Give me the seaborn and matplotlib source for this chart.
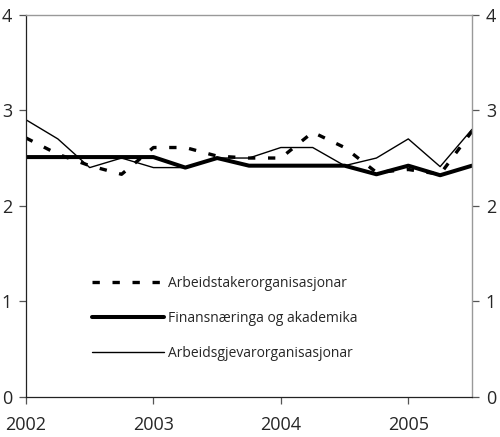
import numpy as np
import pandas as pd
import matplotlib
matplotlib.use("Agg")
import matplotlib.pyplot as plt
import seaborn as sns

# quarterly observations, 2002 Q1 .. 2005 Q3
quarters = [2002.0, 2002.25, 2002.5, 2002.75,
            2003.0, 2003.25, 2003.5, 2003.75,
            2004.0, 2004.25, 2004.5, 2004.75,
            2005.0, 2005.25, 2005.5]
arbeidstakar = [2.71, 2.54, 2.42, 2.33, 2.61, 2.61, 2.52, 2.50,
                2.50, 2.77, 2.61, 2.35, 2.38, 2.33, 2.78]
finans = [2.51, 2.51, 2.51, 2.51, 2.51, 2.40, 2.50, 2.42,
          2.42, 2.42, 2.42, 2.33, 2.42, 2.32, 2.42]
arbeidsgjevar = [2.90, 2.70, 2.40, 2.50, 2.40, 2.40, 2.50, 2.50,
                 2.61, 2.61, 2.42, 2.50, 2.70, 2.41, 2.80]
series_names = ["Arbeidstakerorganisasjonar",
                "Finansnæringa og akademika",
                "Arbeidsgjevarorganisasjonar"]
year_ticks = [2002, 2003, 2004, 2005]
y_ticks = [0, 1, 2, 3, 4]

df = pd.DataFrame({"kvartal": quarters,
                   series_names[0]: arbeidstakar,
                   series_names[1]: finans,
                   series_names[2]: arbeidsgjevar})
long_df = df.melt(id_vars="kvartal", var_name="serie", value_name="verdi")

sns.set_style("ticks")
plt.rcParams["font.family"] = ["Open Sans", "DejaVu Sans"]

fig = plt.figure(figsize=(5.0, 4.37), dpi=100)
ax = fig.add_axes([0.052, 0.0915, 0.892, 0.875])

styles = {
    series_names[0]: dict(lw=2.4, ls=(0, (2.2, 3.8))),
    series_names[1]: dict(lw=2.9, ls="-"),
    series_names[2]: dict(lw=1.0, ls="-"),
}
for name in series_names:
    sub = long_df[long_df["serie"] == name]
    sns.lineplot(data=sub, x="kvartal", y="verdi", ax=ax, color="black",
                 linewidth=styles[name]["lw"], linestyle=styles[name]["ls"],
                 label=name, legend=False)

ax.set_xlim(2002, 2005.5)
ax.set_ylim(0, 4)
ax.set_xticks(year_ticks)
ax.set_xticklabels([str(y) for y in year_ticks])
ax.set_yticks(y_ticks)
ax.set_xlabel("")
ax.set_ylabel("")

for side in ["left", "bottom"]:
    ax.spines[side].set_color("#222222")
    ax.spines[side].set_linewidth(0.9)
for side in ["top", "right"]:
    ax.spines[side].set_visible(True)
    ax.spines[side].set_color("#999999")
    ax.spines[side].set_linewidth(1.0)

ax.tick_params(axis="y", which="both", left=True, right=True,
               labelleft=True, labelright=True, direction="out",
               length=5, width=0.9, color="#555555", pad=5, labelsize=13)
ax.tick_params(axis="x", direction="out", length=5, width=0.9,
               color="#555555", pad=9, labelsize=13)

handles, labels = ax.get_legend_handles_labels()
ax.legend(handles, labels, loc="upper left", bbox_to_anchor=(0.12, 0.35),
          frameon=False, handlelength=5.2, handletextpad=0.25,
          labelspacing=1.45, fontsize=10)

fig.savefig("out.png", dpi=100)
